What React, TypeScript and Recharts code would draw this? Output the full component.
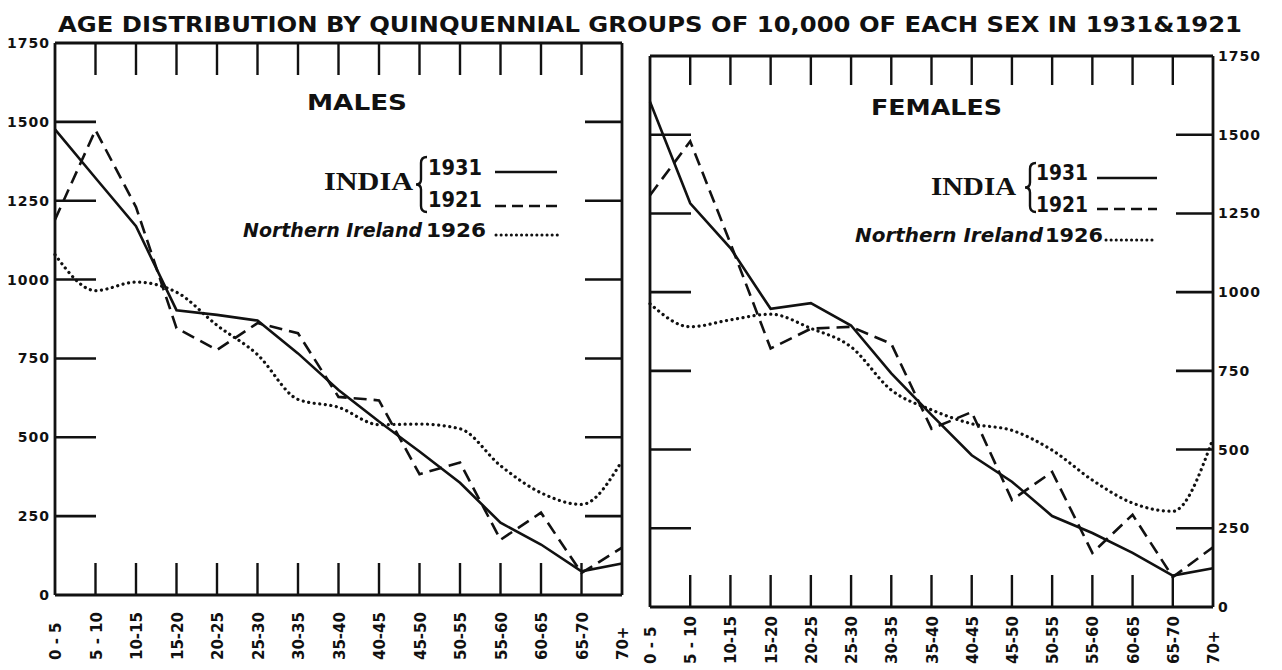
import React from "react";
import { LineChart, Line, XAxis, YAxis, Legend, ReferenceLine } from "recharts";

// ---------- data ----------
const ageGroups = ["0 - 5", "5 - 10", "10-15", "15-20", "20-25", "25-30", "30-35", "35-40", "40-45", "45-50", "50-55", "55-60", "60-65", "65-70", "70+"];

const malesIndia1931 = [1476, 1322, 1169, 903, 888, 870, 766, 650, 550, 455, 356, 229, 160, 75, 100];
const malesIndia1921 = [1190, 1474, 1230, 846, 777, 862, 830, 628, 617, 383, 420, 175, 261, 70, 150];
const malesNorthernIreland1926 = [1079, 965, 992, 960, 855, 762, 620, 595, 540, 542, 527, 410, 324, 287, 425];

const femalesIndia1931 = [1605, 1282, 1140, 947, 965, 894, 742, 610, 482, 398, 289, 235, 172, 100, 123];
const femalesIndia1921 = [1308, 1479, 1155, 821, 884, 890, 836, 566, 619, 340, 429, 172, 293, 95, 190];
const femalesNorthernIreland1926 = [963, 890, 912, 930, 885, 826, 689, 626, 582, 561, 498, 403, 330, 304, 535];

const yTicks = [0, 250, 500, 750, 1000, 1250, 1500, 1750];
const Y_MAX = 1750;

const chartTitle = "AGE DISTRIBUTION BY QUINQUENNIAL GROUPS OF 10,000 OF EACH SEX IN 1931&1921";
const panelTitles = ["MALES", "FEMALES"];
const countryLabel = "INDIA";
const indiaYears = ["1931", "1921"];
const irelandLabel = "Northern Ireland";
const irelandYear = "1926";

const buildRows = (a: number[], b: number[], c: number[]) =>
  ageGroups.map((age, i) => ({ age, india1931: a[i], india1921: b[i], ni1926: c[i] }));

const malesData = buildRows(malesIndia1931, malesIndia1921, malesNorthernIreland1926);
const femalesData = buildRows(femalesIndia1931, femalesIndia1921, femalesNorthernIreland1926);

// ---------- style ----------
const INK = "#111";
const SANS = "'DejaVu Sans', 'Liberation Sans', sans-serif";
const SERIF = "'Liberation Serif', 'DejaVu Serif', serif";
const AXIS_W = 2.8;
const DASH = "13 7";
const DOTS = "0.1 5.5";
const CHART_H = 670;

// ---------- ticks ----------
// labelled y axis; also draws the inward tick on the opposite border of the frame
const makeYTick = (side: "left" | "right", plotW: number) => (props: any) => {
  const { x, y, payload } = props;
  const v = payload.value;
  const dir = side === "left" ? 1 : -1;
  const drawLine = v !== 0 && v !== Y_MAX;
  const ownLen = side === "left" ? 41 : 37;
  const otherLen = side === "left" ? 37 : 41;
  const ox = x + dir * plotW;
  return (
    <g>
      {drawLine && <line x1={x} x2={x + dir * ownLen} y1={y} y2={y} stroke={INK} strokeWidth={2.6} />}
      {drawLine && <line x1={ox} x2={ox - dir * otherLen} y1={y} y2={y} stroke={INK} strokeWidth={2.6} />}
      <text
        x={x - dir * 5}
        y={y}
        dy="0.36em"
        textAnchor={side === "left" ? "end" : "start"}
        fontFamily={SANS}
        fontWeight="bold"
        fontSize={14}
        letterSpacing={1}
        fill={INK}
      >
        {v}
      </text>
    </g>
  );
};

const makeBottomTick = (labelOffset: number, plotH: number, topLen: number) => (props: any) => {
  const { x, y, payload, index } = props;
  const inner = index > 0 && index < ageGroups.length - 1;
  const top = y - plotH;
  return (
    <g>
      {inner && <line x1={x} x2={x} y1={y} y2={y - 32} stroke={INK} strokeWidth={2.4} />}
      {inner && <line x1={x} x2={x} y1={top} y2={top + topLen} stroke={INK} strokeWidth={2.4} />}
      <text
        transform={`translate(${x + 6}, ${y + labelOffset}) rotate(-90)`}
        textAnchor="start"
        fontFamily={SANS}
        fontWeight="bold"
        fontSize={15}
        fill={INK}
      >
        {payload.value}
      </text>
    </g>
  );
};

// ---------- legend ----------
type LegendLayout = {
  indiaX: number; indiaLen: number; indiaBase: number;
  braceX: number; braceTop: number; braceBottom: number;
  yearX: number; yearLen: number; yearBase: number[];
  lineX1: number; lineX2: number; lineY: number[];
  niX: number; niLen: number; niBase: number;
  niYearX: number; niYearLen: number;
  dotX1: number; dotX2: number; dotY: number;
};

const bracePath = (x: number, t: number, b: number) => {
  const m = (t + b) / 2;
  return `M ${x + 6} ${t} Q ${x} ${t} ${x} ${t + 6} L ${x} ${m - 5} Q ${x} ${m} ${x - 5} ${m} Q ${x} ${m} ${x} ${m + 5} L ${x} ${b - 6} Q ${x} ${b} ${x + 6} ${b}`;
};

const LegendBlock = ({ L }: { L: LegendLayout }) => (
  <svg width={360} height={110} style={{ overflow: "visible", display: "block" }}>
    <text x={L.indiaX} y={L.indiaBase} textLength={L.indiaLen} lengthAdjust="spacingAndGlyphs" fontFamily={SERIF} fontWeight="bold" fontSize={25} fill={INK}>
      {countryLabel}
    </text>
    <path d={bracePath(L.braceX, L.braceTop, L.braceBottom)} fill="none" stroke={INK} strokeWidth={2.4} />
    {indiaYears.map((yr, i) => (
      <text key={yr} x={L.yearX} y={L.yearBase[i]} textLength={L.yearLen} lengthAdjust="spacingAndGlyphs" fontFamily={SANS} fontWeight="bold" fontSize={22} fill={INK}>
        {yr}
      </text>
    ))}
    <line x1={L.lineX1} x2={L.lineX2} y1={L.lineY[0]} y2={L.lineY[0]} stroke={INK} strokeWidth={2.6} />
    <line x1={L.lineX1} x2={L.lineX2} y1={L.lineY[1]} y2={L.lineY[1]} stroke={INK} strokeWidth={2.6} strokeDasharray="11 6" />
    <text x={L.niX} y={L.niBase} textLength={L.niLen} lengthAdjust="spacingAndGlyphs" fontFamily={SANS} fontWeight="bold" fontStyle="italic" fontSize={19} fill={INK}>
      {irelandLabel}
    </text>
    <text x={L.niYearX} y={L.niBase} textLength={L.niYearLen} lengthAdjust="spacingAndGlyphs" fontFamily={SANS} fontWeight="bold" fontSize={20} fill={INK}>
      {irelandYear}
    </text>
    <line x1={L.dotX1} x2={L.dotX2} y1={L.dotY} y2={L.dotY} stroke={INK} strokeWidth={3} strokeDasharray="0.1 5" strokeLinecap="round" />
  </svg>
);

const leftLegend: LegendLayout = {
  indiaX: 94, indiaLen: 89, indiaBase: 40,
  braceX: 191, braceTop: 7, braceBottom: 62,
  yearX: 198, yearLen: 54, yearBase: [25, 57],
  lineX1: 265, lineX2: 327, lineY: [22, 56],
  niX: 13, niLen: 179, niBase: 87,
  niYearX: 196, niYearLen: 60,
  dotX1: 266, dotX2: 329, dotY: 85,
};

const rightLegend: LegendLayout = {
  indiaX: 91, indiaLen: 85, indiaBase: 45,
  braceX: 190, braceTop: 13, braceBottom: 62,
  yearX: 196, yearLen: 52, yearBase: [30, 62],
  lineX1: 257, lineX2: 317, lineY: [28, 59],
  niX: 15, niLen: 188, niBase: 92,
  niYearX: 205, niYearLen: 58,
  dotX1: 266, dotX2: 317, dotY: 90,
};

// ---------- panel ----------
type PanelProps = {
  data: any[];
  width: number;
  margin: { top: number; right: number; bottom: number; left: number };
  xAxisHeight: number;
  side: "left" | "right";
  yAxisWidth: number;
  labelOffset: number;
  topTickLen: number;
  legend: LegendLayout;
  legendPos: { left: number; top: number };
};

const Panel = (p: PanelProps) => {
  const plotW = p.width - p.margin.left - p.margin.right - p.yAxisWidth;
  const plotH = CHART_H - p.margin.top - p.margin.bottom - p.xAxisHeight;
  const borderCategory = p.side === "left" ? ageGroups[ageGroups.length - 1] : ageGroups[0];
  return (
    <LineChart width={p.width} height={CHART_H} data={p.data} margin={p.margin}>
      <XAxis
        dataKey="age"
        scale="point"
        padding={{ left: 0, right: 0 }}
        interval={0}
        height={p.xAxisHeight}
        tickSize={0}
        tickMargin={0}
        tickLine={false}
        axisLine={{ stroke: INK, strokeWidth: AXIS_W }}
        tick={makeBottomTick(p.labelOffset, plotH, p.topTickLen)}
      />
      <YAxis
        yAxisId="y"
        orientation={p.side}
        type="number"
        domain={[0, Y_MAX]}
        ticks={yTicks}
        interval={0}
        width={p.yAxisWidth}
        tickSize={0}
        tickMargin={0}
        tickLine={false}
        axisLine={{ stroke: INK, strokeWidth: AXIS_W }}
        tick={makeYTick(p.side, plotW)}
      />
      <ReferenceLine yAxisId="y" y={Y_MAX} stroke={INK} strokeWidth={AXIS_W} />
      <ReferenceLine yAxisId="y" x={borderCategory} stroke={INK} strokeWidth={AXIS_W} />
      <Legend
        layout="horizontal"
        verticalAlign="middle"
        align="center"
        content={() => <LegendBlock L={p.legend} />}
        wrapperStyle={{ left: p.legendPos.left, top: p.legendPos.top, width: 360, height: 110 }}
      />
      <Line yAxisId="y" dataKey="india1931" name="India 1931" type="linear" stroke={INK} strokeWidth={2.6} dot={false} activeDot={false} isAnimationActive={false} />
      <Line yAxisId="y" dataKey="india1921" name="India 1921" type="linear" stroke={INK} strokeWidth={2.6} strokeDasharray={DASH} dot={false} activeDot={false} isAnimationActive={false} />
      <Line yAxisId="y" dataKey="ni1926" name="Northern Ireland 1926" type="monotone" stroke={INK} strokeWidth={3.2} strokeDasharray={DOTS} strokeLinecap="round" dot={false} activeDot={false} isAnimationActive={false} />
    </LineChart>
  );
};

export default function App() {
  return (
    <div style={{ position: "absolute", left: 0, top: 0, width: 1282, height: 670, background: "#fff", overflow: "hidden" }}>
      <div style={{ position: "absolute", left: 0, top: 0 }}>
        <Panel
          data={malesData}
          width={660}
          margin={{ top: 43, right: 38, bottom: 0, left: 0 }}
          xAxisHeight={75}
          side="left"
          yAxisWidth={55}
          labelOffset={65}
          topTickLen={32}
          legend={leftLegend}
          legendPos={{ left: 230, top: 150 }}
        />
      </div>
      <div style={{ position: "absolute", left: 620, top: 0 }}>
        <Panel
          data={femalesData}
          width={662}
          margin={{ top: 56, right: 14, bottom: 0, left: 30 }}
          xAxisHeight={63}
          side="right"
          yAxisWidth={55}
          labelOffset={57}
          topTickLen={29}
          legend={rightLegend}
          legendPos={{ left: 220, top: 150 }}
        />
      </div>
      <svg width={1282} height={130} style={{ position: "absolute", left: 0, top: 0, pointerEvents: "none" }}>
        <text x={58} y={32} textLength={1184} lengthAdjust="spacingAndGlyphs" fontFamily={SANS} fontWeight="bold" fontSize={22} fill={INK}>
          {chartTitle}
        </text>
        <text x={307} y={110} textLength={100} lengthAdjust="spacingAndGlyphs" fontFamily={SANS} fontWeight="bold" fontSize={22} fill={INK}>
          {panelTitles[0]}
        </text>
        <text x={871} y={115} textLength={131} lengthAdjust="spacingAndGlyphs" fontFamily={SANS} fontWeight="bold" fontSize={22} fill={INK}>
          {panelTitles[1]}
        </text>
      </svg>
    </div>
  );
}
